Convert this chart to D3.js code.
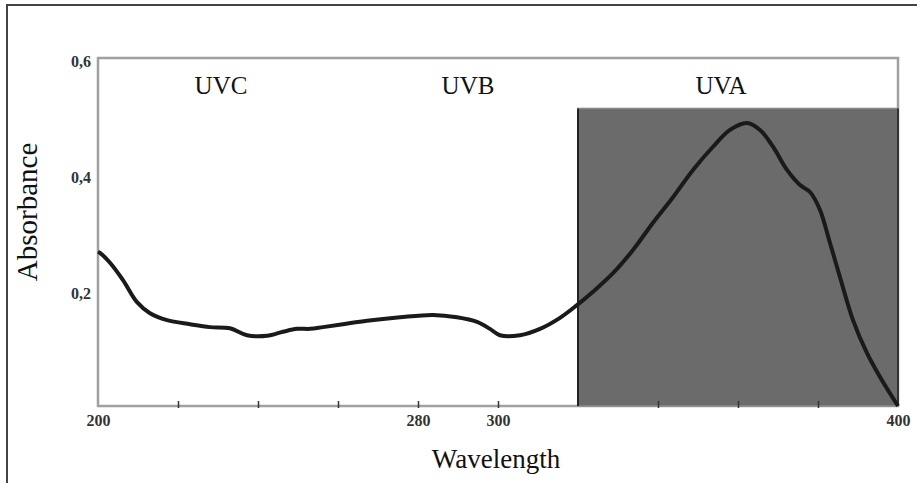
<!DOCTYPE html>
<html>
<head>
<meta charset="utf-8">
<script src="https://cdn.jsdelivr.net/npm/d3@7/dist/d3.min.js"></script>
<style>
  html, body { margin: 0; padding: 0; background: #fff; }
  svg { display: block; }
</style>
</head>
<body>
<svg id="chart" width="917" height="483"></svg>
<script>
// Wavelength (nm) and absorbance
const wavelength = [200, 200.5, 203, 206.25, 209.75, 213, 217.25, 223, 228, 233, 237.25, 242.25, 246.25, 249.75, 253, 256.25, 261.25, 267.25, 275.5, 283.75, 289.75, 294.75, 298, 300.5, 305.5, 310.5, 315.5, 319.75, 323.75, 328.75, 333.75, 338.75, 343.75, 348.75, 353.75, 358, 362.25, 365.5, 368.75, 372.25, 375.5, 378, 380.5, 383, 385.5, 388.75, 392.25, 395.5, 400];
const absorbance = [0.266, 0.264, 0.247, 0.217, 0.179, 0.160, 0.148, 0.141, 0.136, 0.134, 0.122, 0.121, 0.128, 0.133, 0.133, 0.136, 0.141, 0.147, 0.153, 0.157, 0.153, 0.145, 0.133, 0.122, 0.122, 0.133, 0.152, 0.174, 0.197, 0.229, 0.269, 0.316, 0.360, 0.407, 0.447, 0.476, 0.488, 0.476, 0.447, 0.407, 0.381, 0.369, 0.338, 0.281, 0.222, 0.148, 0.091, 0.050, 0.0];

const xTickValues = [220, 240, 260, 280, 300, 340, 360, 380];
const xTickLabels = [200, 280, 300, 400];
const yTickLabels = [0.2, 0.4, 0.6];
const bandNames = ["UVC", "UVB", "UVA"];
const bandLabelX = [230.75, 292.5, 355.75];
const uvaBand = [320, 400];
const uvaTop = 0.513;

const svg = d3.select("#chart");
const x = d3.scaleLinear().domain([200, 400]).range([98, 898]);
const y = d3.scaleLinear().domain([0, 0.6]).range([406, 58]);

// outer frame (left and top)
svg.append("path")
  .attr("d", "M7,483 L7,5 L917,5")
  .attr("fill", "none").attr("stroke", "#444").attr("stroke-width", 2);

// plot box (grey)
svg.append("rect")
  .attr("x", x(200)).attr("y", y(0.6))
  .attr("width", x(400) - x(200)).attr("height", y(0) - y(0.6))
  .attr("fill", "none").attr("stroke", "#a0a0a0").attr("stroke-width", 2.5);

// UVA shaded band
svg.append("rect")
  .attr("x", x(uvaBand[0])).attr("y", y(uvaTop))
  .attr("width", x(uvaBand[1]) - x(uvaBand[0])).attr("height", y(0) - y(uvaTop))
  .attr("fill", "#6b6b6b").attr("stroke", "#8a8a8a").attr("stroke-width", 1.5);
svg.append("line")
  .attr("x1", x(uvaBand[0])).attr("x2", x(uvaBand[0]))
  .attr("y1", y(uvaTop)).attr("y2", y(0))
  .attr("stroke", "#222").attr("stroke-width", 2);
svg.append("line")
  .attr("x1", x(uvaBand[1])).attr("x2", x(uvaBand[1]))
  .attr("y1", y(uvaTop)).attr("y2", y(0))
  .attr("stroke", "#333").attr("stroke-width", 2);

// x axis ticks (upward, small)
const xAxis = d3.axisBottom(x).tickValues(xTickValues).tickSize(-7).tickFormat("");
const gx = svg.append("g").attr("transform", `translate(0,${y(0) + 2})`).call(xAxis);
gx.select(".domain").remove();
gx.selectAll(".tick line").attr("stroke", "#333").attr("stroke-width", 1.5);

// x tick labels
const xLab = d3.axisBottom(x).tickValues(xTickLabels).tickSize(0).tickPadding(9).tickFormat(d => d);
const gxl = svg.append("g").attr("transform", `translate(0,${y(0)})`).call(xLab);
gxl.select(".domain").remove();
gxl.selectAll("text")
  .attr("font-family", "Liberation Serif, serif").attr("font-size", 16)
  .attr("font-weight", "bold").attr("fill", "#333");

// y tick labels
const yLab = d3.axisLeft(y).tickValues(yTickLabels).tickSize(0).tickPadding(7)
  .tickFormat(d => d3.format(".1f")(d).replace(".", ","));
const gyl = svg.append("g").attr("transform", `translate(${x(200)},3)`).call(yLab);
gyl.select(".domain").remove();
gyl.selectAll("text")
  .attr("font-family", "Liberation Serif, serif").attr("font-size", 16)
  .attr("font-weight", "bold").attr("fill", "#333");

// curve
const pts = wavelength.map((w, i) => [w, absorbance[i]]);
svg.append("path")
  .datum(pts)
  .attr("fill", "none")
  .attr("stroke", "#1a1a1a")
  .attr("stroke-width", 4)
  .attr("stroke-linejoin", "round")
  .attr("d", d3.line().x(d => x(d[0])).y(d => y(d[1])).curve(d3.curveCatmullRom));

// band labels
svg.selectAll(".band")
  .data(bandNames)
  .enter().append("text")
  .attr("x", (d, i) => x(bandLabelX[i]))
  .attr("y", 94)
  .attr("text-anchor", "middle")
  .attr("font-family", "Liberation Serif, serif")
  .attr("font-size", 25)
  .attr("fill", "#111")
  .text(d => d);

// axis titles
svg.append("text")
  .attr("x", 496).attr("y", 468)
  .attr("text-anchor", "middle")
  .attr("font-family", "Liberation Serif, serif")
  .attr("font-size", 27)
  .attr("fill", "#111")
  .text("Wavelength");

svg.append("text")
  .attr("transform", "translate(37,212) rotate(-90)")
  .attr("text-anchor", "middle")
  .attr("font-family", "Liberation Serif, serif")
  .attr("font-size", 29)
  .attr("fill", "#111")
  .text("Absorbance");
</script>
</body>
</html>
